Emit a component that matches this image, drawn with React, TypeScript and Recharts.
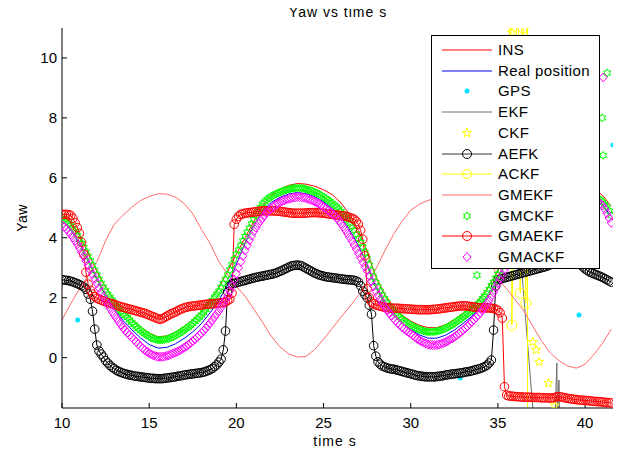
import React from 'react';
import { ComposedChart, Line, Scatter, XAxis, YAxis } from 'recharts';

// ---------- data ----------
// dense sample times for the marker series (s)
const tQ = [
  10, 10.125, 10.25, 10.375, 10.5, 10.625, 10.75, 10.875,
  11, 11.125, 11.25, 11.375, 11.5, 11.625, 11.75, 11.875,
  12, 12.125, 12.25, 12.375, 12.5, 12.625, 12.75, 12.875,
  13, 13.125, 13.25, 13.375, 13.5, 13.625, 13.75, 13.875,
  14, 14.125, 14.25, 14.375, 14.5, 14.625, 14.75, 14.875,
  15, 15.125, 15.25, 15.375, 15.5, 15.625, 15.75, 15.875,
  16, 16.125, 16.25, 16.375, 16.5, 16.625, 16.75, 16.875,
  17, 17.125, 17.25, 17.375, 17.5, 17.625, 17.75, 17.875,
  18, 18.125, 18.25, 18.375, 18.5, 18.625, 18.75, 18.875,
  19, 19.125, 19.25, 19.375, 19.5, 19.625, 19.75, 19.875,
  20, 20.125, 20.25, 20.375, 20.5, 20.625, 20.75, 20.875,
  21, 21.125, 21.25, 21.375, 21.5, 21.625, 21.75, 21.875,
  22, 22.125, 22.25, 22.375, 22.5, 22.625, 22.75, 22.875,
  23, 23.125, 23.25, 23.375, 23.5, 23.625, 23.75, 23.875,
  24, 24.125, 24.25, 24.375, 24.5, 24.625, 24.75, 24.875,
  25, 25.125, 25.25, 25.375, 25.5, 25.625, 25.75, 25.875,
  26, 26.125, 26.25, 26.375, 26.5, 26.625, 26.75, 26.875,
  27, 27.125, 27.25, 27.375, 27.5, 27.625, 27.75, 27.875,
  28, 28.125, 28.25, 28.375, 28.5, 28.625, 28.75, 28.875,
  29, 29.125, 29.25, 29.375, 29.5, 29.625, 29.75, 29.875,
  30, 30.125, 30.25, 30.375, 30.5, 30.625, 30.75, 30.875,
  31, 31.125, 31.25, 31.375, 31.5, 31.625, 31.75, 31.875,
  32, 32.125, 32.25, 32.375, 32.5, 32.625, 32.75, 32.875,
  33, 33.125, 33.25, 33.375, 33.5, 33.625, 33.75, 33.875,
  34, 34.125, 34.25, 34.375, 34.5, 34.625, 34.75, 34.875,
  35, 35.125, 35.25, 35.375, 35.5, 35.625, 35.75, 35.875,
  36, 36.125, 36.25, 36.375, 36.5, 36.625, 36.75, 36.875,
  37, 37.125, 37.25, 37.375, 37.5, 37.625, 37.75, 37.875,
  38, 38.125, 38.25, 38.375, 38.5, 38.625, 38.75, 38.875,
  39, 39.125, 39.25, 39.375, 39.5, 39.625, 39.75, 39.875,
  40, 40.125, 40.25, 40.375, 40.5, 40.625, 40.75, 40.875,
  41, 41.125, 41.25, 41.375, 41.5,
];

// sample times for the plain-line series (s)
const tHalf = [
  10, 10.5, 11, 11.5, 12, 12.5, 13, 13.5,
  14, 14.5, 15, 15.5, 16, 16.5, 17, 17.5,
  18, 18.5, 19, 19.5, 20, 20.5, 21, 21.5,
  22, 22.5, 23, 23.5, 24, 24.5, 25, 25.5,
  26, 26.5, 27, 27.5, 28, 28.5, 29, 29.5,
  30, 30.5, 31, 31.5, 32, 32.5, 33, 33.5,
  34, 34.5, 35, 35.5, 36, 36.5, 37, 37.5,
  38, 38.5, 39, 39.5, 40, 40.5, 41, 41.5,
];

const insV = [
  4.75, 4.52, 4.07, 3.5, 2.88, 2.35, 1.94, 1.58,
  1.3, 1.03, 0.82, 0.7, 0.72, 0.85, 1.04, 1.26,
  1.55, 1.92, 2.35, 2.88, 3.45, 4.0, 4.55, 5.08,
  5.42, 5.62, 5.75, 5.81, 5.79, 5.72, 5.6, 5.44,
  5.16, 4.78, 4.25, 3.55, 2.7, 2.12, 1.7, 1.42,
  1.22, 1.08, 1.0, 1.0, 1.1, 1.27, 1.48, 1.72,
  2.0, 2.4, 2.9, 3.48, 4.08, 4.62, 5.08, 5.42,
  5.65, 5.8, 5.86, 5.84, 5.75, 5.62, 5.42, 5.05,
];

const realV = [
  4.55, 4.28, 3.82, 3.24, 2.62, 2.07, 1.63, 1.24,
  0.93, 0.66, 0.44, 0.32, 0.34, 0.46, 0.64, 0.86,
  1.14, 1.5, 1.92, 2.42, 3.12, 3.82, 4.42, 4.9,
  5.18, 5.35, 5.46, 5.51, 5.47, 5.37, 5.2, 4.98,
  4.68, 4.26, 3.74, 3.1, 2.36, 1.84, 1.44, 1.15,
  0.94, 0.76, 0.65, 0.65, 0.75, 0.92, 1.14, 1.38,
  1.69, 2.1, 2.63, 3.22, 3.82, 4.4, 4.87, 5.23,
  5.46, 5.58, 5.6, 5.56, 5.46, 5.3, 5.08, 4.72,
];

const gmekfV = [
  1.26, 1.8, 2.3, 2.75, 3.2, 3.9, 4.45, 4.75,
  5.02, 5.24, 5.38, 5.47, 5.46, 5.36, 5.15, 4.8,
  4.28, 3.8, 3.2, 2.78, 2.38, 2.05, 1.62, 1.18,
  0.72, 0.36, 0.12, 0.02, 0.04, 0.28, 0.62, 0.98,
  1.35, 1.7, 2.08, 2.5, 2.95, 3.55, 4.1, 4.55,
  4.92, 5.12, 5.25, 5.32, 5.3, 5.2, 5.0, 4.65,
  4.15, 3.4, 2.62, 2.3, 1.92, 1.55, 1.05, 0.56,
  0.16, -0.1, -0.28, -0.35, -0.22, 0.1, 0.48, 0.95,
];

const gmckfV = [
  4.65, 4.6, 4.55, 4.48, 4.4, 4.31, 4.2, 4.08,
  3.95, 3.82, 3.68, 3.53, 3.38, 3.23, 3.08, 2.92,
  2.76, 2.62, 2.48, 2.35, 2.23, 2.12, 2.02, 1.92,
  1.82, 1.72, 1.62, 1.54, 1.46, 1.4, 1.34, 1.26,
  1.18, 1.1, 1.03, 0.97, 0.91, 0.85, 0.8, 0.75,
  0.7, 0.66, 0.63, 0.61, 0.59, 0.59, 0.59, 0.6,
  0.62, 0.64, 0.67, 0.7, 0.74, 0.78, 0.82, 0.87,
  0.92, 0.97, 1.02, 1.08, 1.14, 1.21, 1.28, 1.35,
  1.42, 1.51, 1.6, 1.7, 1.8, 1.91, 2.02, 2.12,
  2.22, 2.35, 2.48, 2.62, 2.76, 2.93, 3.1, 3.28,
  3.45, 3.59, 3.73, 3.89, 4.04, 4.18, 4.32, 4.46,
  4.6, 4.74, 4.88, 5.01, 5.13, 5.2, 5.27, 5.33,
  5.38, 5.42, 5.46, 5.49, 5.52, 5.55, 5.58, 5.6,
  5.62, 5.64, 5.65, 5.66, 5.66, 5.66, 5.65, 5.64,
  5.62, 5.6, 5.58, 5.55, 5.52, 5.49, 5.45, 5.41,
  5.36, 5.31, 5.26, 5.21, 5.15, 5.09, 5.03, 4.96,
  4.88, 4.79, 4.7, 4.59, 4.48, 4.37, 4.25, 4.12,
  3.98, 3.84, 3.7, 3.5, 3.3, 3.09, 2.88, 2.69,
  2.5, 2.36, 2.22, 2.09, 1.96, 1.85, 1.74, 1.65,
  1.56, 1.49, 1.42, 1.35, 1.28, 1.22, 1.17, 1.12,
  1.08, 1.04, 1.0, 0.97, 0.94, 0.91, 0.89, 0.87,
  0.86, 0.86, 0.86, 0.87, 0.88, 0.9, 0.92, 0.95,
  0.98, 1.02, 1.06, 1.1, 1.15, 1.2, 1.25, 1.3,
  1.36, 1.41, 1.47, 1.52, 1.58, 1.65, 1.72, 1.8,
  1.88, 1.97, 2.06, 2.17, 2.28, 2.4, 2.52, 2.65,
  2.78, 2.91, 3.05, 3.2, 3.35, 3.5, 3.65, 3.8,
  3.95, 4.1, 4.25, 4.38, 4.52, 4.65, 4.78, 4.89,
  5.0, 5.1, 5.2, 5.28, 5.36, 5.43, 5.5, 5.55,
  5.6, 5.64, 5.67, 5.69, 5.71, 5.72, 5.73, 5.74,
  5.74, 5.74, 5.73, 5.72, 5.7, 5.68, 5.65, 5.62,
  5.58, 5.54, 5.5, 5.46, 5.41, 5.36, 5.31, 5.26,
  5.2, 5.12, 5.03, 4.9, 4.75,
];

const gmackfV = [
  4.42, 4.36, 4.3, 4.21, 4.12, 4.01, 3.9, 3.78,
  3.66, 3.52, 3.38, 3.23, 3.08, 2.93, 2.78, 2.63,
  2.48, 2.33, 2.18, 2.04, 1.9, 1.77, 1.65, 1.53,
  1.42, 1.31, 1.2, 1.1, 1.0, 0.91, 0.83, 0.75,
  0.68, 0.6, 0.53, 0.45, 0.38, 0.31, 0.25, 0.2,
  0.15, 0.11, 0.07, 0.05, 0.03, 0.03, 0.03, 0.04,
  0.06, 0.08, 0.11, 0.14, 0.17, 0.2, 0.24, 0.28,
  0.33, 0.38, 0.43, 0.49, 0.55, 0.61, 0.68, 0.75,
  0.82, 0.9, 0.98, 1.07, 1.16, 1.26, 1.36, 1.46,
  1.56, 1.68, 1.8, 1.93, 2.06, 2.23, 2.4, 2.6,
  2.8, 3.0, 3.2, 3.39, 3.58, 3.75, 3.92, 4.07,
  4.22, 4.34, 4.46, 4.56, 4.66, 4.75, 4.84, 4.91,
  4.98, 5.04, 5.1, 5.14, 5.18, 5.22, 5.25, 5.28,
  5.3, 5.32, 5.34, 5.35, 5.36, 5.36, 5.35, 5.34,
  5.32, 5.3, 5.27, 5.24, 5.21, 5.17, 5.13, 5.08,
  5.03, 4.98, 4.92, 4.86, 4.8, 4.74, 4.67, 4.58,
  4.48, 4.37, 4.26, 4.14, 4.02, 3.89, 3.76, 3.62,
  3.48, 3.33, 3.18, 3.04, 2.9, 2.73, 2.55, 2.38,
  2.22, 2.08, 1.95, 1.82, 1.7, 1.6, 1.5, 1.41,
  1.32, 1.24, 1.16, 1.09, 1.02, 0.96, 0.9, 0.85,
  0.8, 0.74, 0.68, 0.63, 0.58, 0.54, 0.5, 0.47,
  0.44, 0.43, 0.42, 0.42, 0.42, 0.44, 0.46, 0.49,
  0.52, 0.56, 0.6, 0.64, 0.69, 0.74, 0.8, 0.86,
  0.92, 0.98, 1.05, 1.12, 1.19, 1.26, 1.34, 1.42,
  1.5, 1.6, 1.7, 1.81, 1.92, 2.05, 2.18, 2.33,
  2.48, 2.63, 2.78, 2.93, 3.08, 3.23, 3.38, 3.53,
  3.68, 3.83, 3.98, 4.12, 4.26, 4.39, 4.52, 4.63,
  4.74, 4.84, 4.94, 5.02, 5.1, 5.16, 5.22, 5.27,
  5.32, 5.36, 5.39, 5.41, 5.43, 5.44, 5.45, 5.46,
  5.46, 5.46, 5.45, 5.44, 5.43, 5.41, 5.38, 5.36,
  5.34, 5.32, 5.3, 5.28, 5.25, 5.22, 5.18, 5.14,
  5.08, 4.96, 4.82, 4.66, 4.5,
];

const gmaekfV = [
  4.78, 4.78, 4.78, 4.77, 4.75, 4.65, 4.5, 4.34,
  4.15, 3.85, 3.45, 2.85, 2.45, 2.25, 2.12, 2.04,
  1.98, 1.95, 1.92, 1.89, 1.86, 1.84, 1.82, 1.8,
  1.78, 1.75, 1.72, 1.7, 1.68, 1.66, 1.64, 1.62,
  1.6, 1.58, 1.56, 1.54, 1.52, 1.5, 1.48, 1.45,
  1.42, 1.39, 1.36, 1.33, 1.3, 1.28, 1.3, 1.34,
  1.38, 1.42, 1.46, 1.49, 1.52, 1.56, 1.6, 1.63,
  1.66, 1.68, 1.7, 1.71, 1.72, 1.73, 1.74, 1.75,
  1.76, 1.77, 1.78, 1.79, 1.79, 1.8, 1.8, 1.81,
  1.82, 1.83, 1.84, 1.86, 1.9, 1.95, 2.15, 4.45,
  4.62, 4.72, 4.78, 4.8, 4.82, 4.83, 4.84, 4.85,
  4.86, 4.87, 4.88, 4.89, 4.9, 4.9, 4.9, 4.9,
  4.9, 4.9, 4.89, 4.89, 4.88, 4.87, 4.86, 4.85,
  4.84, 4.83, 4.82, 4.82, 4.82, 4.82, 4.82, 4.82,
  4.83, 4.83, 4.84, 4.84, 4.84, 4.84, 4.83, 4.83,
  4.82, 4.81, 4.8, 4.79, 4.78, 4.77, 4.76, 4.75,
  4.74, 4.73, 4.72, 4.7, 4.68, 4.65, 4.62, 4.55,
  4.45, 4.25, 3.95, 3.4, 2.3, 2.0, 1.86, 1.8,
  1.76, 1.74, 1.72, 1.7, 1.68, 1.67, 1.66, 1.65,
  1.65, 1.65, 1.65, 1.64, 1.64, 1.63, 1.63, 1.62,
  1.62, 1.61, 1.61, 1.6, 1.6, 1.6, 1.6, 1.6,
  1.6, 1.6, 1.61, 1.61, 1.62, 1.63, 1.64, 1.65,
  1.66, 1.67, 1.68, 1.69, 1.7, 1.71, 1.72, 1.72,
  1.73, 1.73, 1.72, 1.71, 1.7, 1.69, 1.68, 1.67,
  1.67, 1.66, 1.66, 1.66, 1.66, 1.65, 1.64, 1.62,
  1.58, 1.5, 1.32, -0.97, -1.25, -1.28, -1.28, -1.29,
  -1.3, -1.3, -1.31, -1.31, -1.32, -1.32, -1.32, -1.32,
  -1.33, -1.33, -1.33, -1.33, -1.34, -1.34, -1.34, -1.34,
  -1.35, -1.34, -1.33, -1.31, -1.3, -1.31, -1.33, -1.34,
  -1.36, -1.37, -1.38, -1.39, -1.4, -1.41, -1.42, -1.42,
  -1.43, -1.43, -1.44, -1.45, -1.46, -1.46, -1.47, -1.47,
  -1.48, -1.49, -1.5, -1.5, -1.51,
];

const aefkV = [
  2.6, 2.59, 2.58, 2.57, 2.55, 2.53, 2.5, 2.47,
  2.44, 2.4, 2.36, 2.28, 2.12, 1.95, 1.55, 0.95,
  0.42, 0.22, 0.12, 0.02, -0.1, -0.18, -0.26, -0.32,
  -0.37, -0.42, -0.46, -0.49, -0.52, -0.54, -0.56, -0.58,
  -0.59, -0.61, -0.62, -0.63, -0.64, -0.65, -0.66, -0.67,
  -0.68, -0.69, -0.69, -0.7, -0.7, -0.7, -0.7, -0.69,
  -0.68, -0.67, -0.66, -0.65, -0.64, -0.62, -0.61, -0.6,
  -0.58, -0.57, -0.56, -0.55, -0.54, -0.53, -0.52, -0.51,
  -0.5, -0.48, -0.46, -0.43, -0.4, -0.36, -0.3, -0.24,
  -0.15, -0.05, 0.26, 0.89, 2.2, 2.4, 2.46, 2.48,
  2.5, 2.52, 2.54, 2.56, 2.58, 2.6, 2.62, 2.64,
  2.66, 2.68, 2.69, 2.71, 2.72, 2.74, 2.75, 2.77,
  2.78, 2.8, 2.82, 2.85, 2.88, 2.91, 2.95, 2.98,
  3.02, 3.05, 3.07, 3.08, 3.09, 3.08, 3.06, 3.02,
  2.98, 2.94, 2.9, 2.86, 2.82, 2.79, 2.76, 2.74,
  2.72, 2.7, 2.69, 2.68, 2.67, 2.66, 2.65, 2.64,
  2.63, 2.62, 2.61, 2.6, 2.6, 2.59, 2.58, 2.56,
  2.52, 2.4, 2.22, 2.1, 2.0, 1.75, 1.45, 0.4,
  0.05, -0.14, -0.22, -0.28, -0.31, -0.34, -0.36, -0.38,
  -0.38, -0.4, -0.42, -0.44, -0.46, -0.48, -0.5, -0.52,
  -0.54, -0.56, -0.58, -0.6, -0.61, -0.62, -0.63, -0.64,
  -0.64, -0.64, -0.64, -0.64, -0.63, -0.62, -0.61, -0.6,
  -0.58, -0.57, -0.56, -0.55, -0.54, -0.53, -0.52, -0.51,
  -0.5, -0.48, -0.47, -0.46, -0.44, -0.42, -0.4, -0.38,
  -0.36, -0.33, -0.3, -0.25, -0.18, -0.08, 0.92, 2.4,
  2.6, 2.62, 2.64, 2.66, 2.68, 2.7, 2.72, 2.74,
  2.76, 2.78, 2.8, 2.82, 2.84, 2.86, 2.88, 2.9,
  2.92, 2.94, 2.96, 2.98, 3.0, 3.02, 3.04, 3.07,
  3.1, 3.15, 3.2, 3.24, 3.28, 3.3, 3.32, 3.33,
  3.33, 3.32, 3.3, 3.26, 3.22, 3.16, 3.1, 3.03,
  2.96, 2.91, 2.86, 2.83, 2.8, 2.77, 2.74, 2.71,
  2.68, 2.64, 2.6, 2.56, 2.52,
];

// sparse / diverging series
const gpsT = [10.9, 32.83, 39.65, 41.6];
const gpsV = [1.26, -0.68, 1.42, 7.1];

const ckfT = [35.8, 37.0, 37.2, 37.37, 37.9, 38.25];
const ckfV = [10.85, 0.52, 0.26, -0.14, -0.85, -1.6];

const ackfT = [35.6, 35.72, 35.8, 36.15, 36.28, 36.4, 36.45, 36.6, 36.68, 36.72];
const ackfV = [3.4, 14, 1.08, 14, 2.15, 14, 11.0, 1.82, 14, -14];

const ekfT = [36.3, 36.45, 37.1, 38.25, 38.38, 38.42, 38.5, 38.55, 41.6];
const ekfV = [3.5, 2.3, -2.4, -2.5, -0.18, -2.5, -0.75, -2.5, -2.5];

const gmckfExtraT = [33.8, 41.27, 40.98, 41.04];
const gmckfExtraV = [2.75, 9.5, 8.0, 6.75];

const gmackfExtraT = [41.04];
const gmackfExtraV = [9.35];

const xTicks = [10, 15, 20, 25, 30, 35, 40];
const yTicks = [0, 2, 4, 6, 8, 10];
const xDomain: [number, number] = [10, 41.6];
const yDomain: [number, number] = [-1.68, 11];

const legendNames = ['INS', 'Real position', 'GPS', 'EKF', 'CKF', 'AEFK', 'ACKF', 'GMEKF', 'GMCKF', 'GMAEKF', 'GMACKF'];

// ---------- helpers ----------
const zip = (ts: number[], vs: number[]) => {
  if (ts.length !== vs.length) throw new Error(`length mismatch ${ts.length} vs ${vs.length}`);
  return ts.map((t, i) => ({ t, v: vs[i] }));
};

const FONT = "'Liberation Sans', Arial, Helvetica, sans-serif";

const C = {
  ins: '#ff0000',
  real: '#0000ff',
  gps: '#00e5ff',
  ekf: '#6e6e6e',
  ckf: '#ffff00',
  aefk: '#000000',
  ackf: '#ffff00',
  gmekf: '#ff6a6a',
  gmckf: '#00ff00',
  gmaekf: '#ff0000',
  gmackf: '#ff00ff',
};

function starPath(cx: number, cy: number, n: number, R: number, r: number) {
  let d = '';
  for (let k = 0; k < 2 * n; k++) {
    const a = -Math.PI / 2 + (k * Math.PI) / n;
    const rad = k % 2 === 0 ? R : r;
    d += (k === 0 ? 'M' : 'L') + (cx + rad * Math.cos(a)).toFixed(2) + ',' + (cy + rad * Math.sin(a)).toFixed(2);
  }
  return d + 'Z';
}

const Hex = (cx: number, cy: number, color: string) => (
  <path d={starPath(cx, cy, 6, 4, 2.31)} fill="none" stroke={color} strokeWidth={1} />
);
const Pent = (cx: number, cy: number, color: string) => (
  <path d={starPath(cx, cy, 5, 4.8, 1.9)} fill="none" stroke={color} strokeWidth={1} />
);
const Diamond = (cx: number, cy: number, color: string) => (
  <path d={`M${cx},${cy - 4.5}L${cx + 4},${cy}L${cx},${cy + 4.5}L${cx - 4},${cy}Z`} fill="none" stroke={color} strokeWidth={1} />
);

const legendSpec: { line?: string; marker?: string; color: string }[] = [
  { line: C.ins, color: C.ins },
  { line: C.real, color: C.real },
  { marker: 'dot', color: C.gps },
  { line: C.ekf, color: C.ekf },
  { marker: 'pent', color: C.ckf },
  { line: '#333333', marker: 'circle', color: C.aefk },
  { line: C.ackf, marker: 'circle', color: C.ackf },
  { line: C.gmekf, color: C.gmekf },
  { marker: 'hex', color: C.gmckf },
  { line: C.gmaekf, marker: 'circle', color: C.gmaekf },
  { marker: 'diamond', color: C.gmackf },
];

function LegendBox() {
  return (
    <div
      style={{
        position: 'absolute',
        left: 423,
        top: 27,
        width: 169,
        height: 234,
        boxSizing: 'border-box',
        border: '1px solid #000',
        background: '#fff',
        fontFamily: FONT,
      }}
    >
      {legendNames.map((name, i) => {
        const s = legendSpec[i];
        const cy = 14 + 20.7 * i;
        return (
          <div key={name} style={{ position: 'absolute', left: 0, top: cy - 10, height: 20, width: 167 }}>
            <svg width={62} height={20} style={{ position: 'absolute', left: 0, top: 0 }}>
              {s.line && <line x1={10} x2={60} y1={10} y2={10} stroke={s.line} strokeWidth={1} />}
              {s.marker === 'dot' && <circle cx={35} cy={10} r={2.5} fill={s.color} />}
              {s.marker === 'circle' && <circle cx={35} cy={10} r={4.5} fill="none" stroke={s.color} strokeWidth={1} />}
              {s.marker === 'pent' && Pent(35, 10, s.color)}
              {s.marker === 'hex' && Hex(35, 10, s.color)}
              {s.marker === 'diamond' && Diamond(35, 10, s.color)}
            </svg>
            <div
              style={{
                position: 'absolute',
                left: 66,
                top: 0,
                height: 20,
                lineHeight: '20px',
                fontSize: 15,
                letterSpacing: 0.4,
                color: '#000',
                whiteSpace: 'nowrap',
              }}
            >
              {name}
            </div>
          </div>
        );
      })}
    </div>
  );
}

export default function App() {
  const tickStyle = { fontSize: 15, fill: '#000', fontFamily: FONT };
  const axisCommon = {
    axisLine: { stroke: '#000', strokeWidth: 1 },
    tickLine: { stroke: '#000', strokeWidth: 1 },
  };
  return (
    <div style={{ position: 'relative', width: 613, height: 442, fontFamily: FONT }}>
      <ComposedChart width={613} height={442} margin={{ top: 20, right: 8, bottom: 12, left: 14 }}>
        <XAxis
          xAxisId="b"
          dataKey="t"
          type="number"
          domain={xDomain}
          allowDataOverflow
          ticks={xTicks}
          interval={0}
          tickSize={-5}
          tickMargin={14}
          tick={tickStyle}
          height={30}
          {...axisCommon}
        />
        <XAxis
          xAxisId="top"
          orientation="top"
          dataKey="t"
          type="number"
          domain={xDomain}
          allowDataOverflow
          ticks={xTicks}
          interval={0}
          tickSize={-5}
          tickFormatter={() => ''}
          height={0}
          {...axisCommon}
        />
        <YAxis
          yAxisId="l"
          dataKey="v"
          type="number"
          domain={yDomain}
          allowDataOverflow
          ticks={yTicks}
          interval={0}
          tickSize={-5}
          tickMargin={10}
          tick={tickStyle}
          width={40}
          {...axisCommon}
        />
        <YAxis
          yAxisId="r"
          orientation="right"
          dataKey="v"
          type="number"
          domain={yDomain}
          allowDataOverflow
          ticks={yTicks}
          interval={0}
          tickSize={-5}
          tickFormatter={() => ''}
          width={0}
          {...axisCommon}
        />

        <Line xAxisId="b" yAxisId="l" data={zip(tHalf, insV)} dataKey="v" stroke={C.ins} strokeWidth={1} dot={false} activeDot={false} isAnimationActive={false} type="linear" />
        <Line xAxisId="b" yAxisId="l" data={zip(tHalf, realV)} dataKey="v" stroke={C.real} strokeWidth={1} dot={false} activeDot={false} isAnimationActive={false} type="linear" />
        <Scatter xAxisId="b" yAxisId="l" data={zip(gpsT, gpsV)} dataKey="v" isAnimationActive={false}
          shape={(p: any) => <circle cx={p.cx} cy={p.cy} r={2.5} fill={C.gps} />} />
        <Line xAxisId="b" yAxisId="l" data={zip(ekfT, ekfV)} dataKey="v" stroke={C.ekf} strokeWidth={1} dot={false} activeDot={false} isAnimationActive={false} type="linear" />
        <Scatter xAxisId="b" yAxisId="l" data={zip(ckfT, ckfV)} dataKey="v" isAnimationActive={false}
          shape={(p: any) => Pent(p.cx, p.cy, C.ckf)} />
        <Line xAxisId="b" yAxisId="l" data={zip(tQ, aefkV)} dataKey="v" stroke={C.aefk} strokeWidth={1}
          dot={{ r: 4.3, stroke: C.aefk, strokeWidth: 1, fill: 'none' }} activeDot={false} isAnimationActive={false} type="linear" />
        <Line xAxisId="b" yAxisId="l" data={zip(ackfT, ackfV)} dataKey="v" stroke={C.ackf} strokeWidth={1}
          dot={{ r: 5, stroke: C.ackf, strokeWidth: 1, fill: 'none' }} activeDot={false} isAnimationActive={false} type="linear" />
        <Line xAxisId="b" yAxisId="l" data={zip(tHalf, gmekfV)} dataKey="v" stroke={C.gmekf} strokeWidth={1} dot={false} activeDot={false} isAnimationActive={false} type="linear" />
        <Scatter xAxisId="b" yAxisId="l" data={zip(tQ, gmckfV).concat(zip(gmckfExtraT, gmckfExtraV))} dataKey="v" isAnimationActive={false}
          shape={(p: any) => Hex(p.cx, p.cy, C.gmckf)} />
        <Line xAxisId="b" yAxisId="l" data={zip(tQ, gmaekfV)} dataKey="v" stroke={C.gmaekf} strokeWidth={1}
          dot={{ r: 4.3, stroke: C.gmaekf, strokeWidth: 1, fill: 'none' }} activeDot={false} isAnimationActive={false} type="linear" />
        <Scatter xAxisId="b" yAxisId="l" data={zip(tQ, gmackfV).concat(zip(gmackfExtraT, gmackfExtraV))} dataKey="v" isAnimationActive={false}
          shape={(p: any) => Diamond(p.cx, p.cy, C.gmackf)} />
      </ComposedChart>

      <svg width={621} height={450} style={{ position: 'absolute', left: -8, top: -8, pointerEvents: 'none' }}>
        <text x={338} y={16.7} textAnchor="middle" fontSize={14} letterSpacing={1} fontFamily={FONT} fill="#000">
          Yaw vs time s
        </text>
        <text x={335} y={446} textAnchor="middle" fontSize={14} letterSpacing={1} fontFamily={FONT} fill="#000">
          time s
        </text>
        <text x={0} y={0} transform="translate(27,218) rotate(-90)" textAnchor="middle" fontSize={14} letterSpacing={0.5} fontFamily={FONT} fill="#000">
          Yaw
        </text>
      </svg>
      <LegendBox />
    </div>
  );
}
